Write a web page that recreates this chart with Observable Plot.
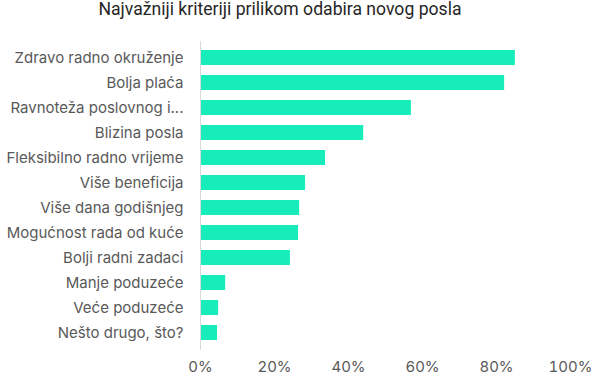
<!DOCTYPE html>
<html>
<head>
<meta charset="utf-8">
<script src="https://cdn.jsdelivr.net/npm/d3@7"></script>
<script src="https://cdn.jsdelivr.net/npm/@observablehq/plot@0.6"></script>
<style>
  html, body { margin: 0; padding: 0; background: #fff; }
  #wrap { width: 594px; height: 379px; position: relative; }
  #title { position: absolute; left: 0; top: -2px; width: 560px; height: 24px; text-align: center;
    font-family: Roboto, sans-serif;
    font-size: 17.6px; line-height: 22px; color: #262626; }
  #chart { position: absolute; left: 0; top: 30px; }
</style>
</head>
<body>
<div id="wrap">
  <div id="title">Najvažniji kriteriji prilikom odabira novog posla</div>
  <div id="chart"></div>
</div>
<script>
const categories = [
  "Zdravo radno okruženje",
  "Bolja plaća",
  "Ravnoteža poslovnog i...",
  "Blizina posla",
  "Fleksibilno radno vrijeme",
  "Više beneficija",
  "Više dana godišnjeg",
  "Mogućnost rada od kuće",
  "Bolji radni zadaci",
  "Manje poduzeće",
  "Veće poduzeće",
  "Nešto drugo, što?"
];
const values = [0.851, 0.822, 0.570, 0.441, 0.338, 0.284, 0.268, 0.265, 0.243, 0.068, 0.049, 0.046];
const xTicks = [0, 0.2, 0.4, 0.6, 0.8, 1.0];

const data = categories.map((c, i) => ({category: c, value: values[i]}));

const chart = Plot.plot({
  width: 594,
  height: 349,
  marginLeft: 200,
  marginRight: 24,
  marginTop: 11,
  marginBottom: 29,
  style: {fontFamily: "Inter, 'Open Sans', sans-serif", fontSize: "15px", color: "#595959", background: "#fff"},
  x: {domain: [0, 1], ticks: xTicks, tickFormat: d3.format(".0%")},
  y: {domain: categories, paddingInner: 0.39, paddingOuter: 0.195},
  marks: [
    Plot.barX(data, {x: "value", y: "category", fill: "#17EDBB"}),
    Plot.ruleX([0], {stroke: "#d9d9d9", strokeWidth: 1}),
    Plot.axisX({ticks: xTicks, tickFormat: d3.format(".0%"), tickSize: 0, tickPadding: 11, label: null, fill: "#595959"}),
    Plot.axisY({tickSize: 0, tickPadding: 17, label: null, fill: "#595959"})
  ]
});
document.getElementById("chart").appendChild(chart);
</script>
</body>
</html>
